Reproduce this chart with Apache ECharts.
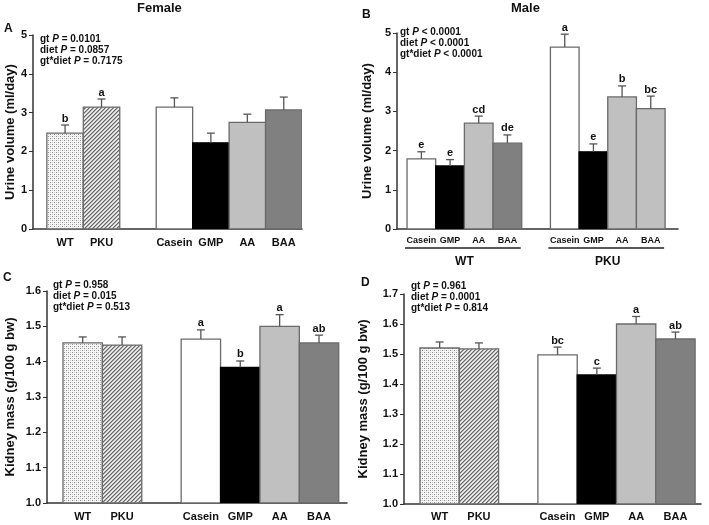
<!DOCTYPE html>
<html><head><meta charset="utf-8">
<script src="https://cdn.jsdelivr.net/npm/echarts@6/dist/echarts.min.js"></script>
<style>html,body{margin:0;padding:0;background:#fff}#c{width:709px;height:525px}</style>
</head><body><div id="c"></div><script>
const FONT = '"Liberation Sans", Arial, sans-serif';

// ---------- data ----------
const groupCats = ['WT', 'PKU'];
const dietCats = ['Casein', 'GMP', 'AA', 'BAA'];
const effectTerms = ['gt', 'diet', 'gt*diet'];

// Panel A – Female urine volume (WT, PKU, then diets)
const urineFemaleMean = [2.47, 3.14, 3.14, 2.22, 2.75, 3.07];
const urineFemaleSE = [0.21, 0.21, 0.24, 0.25, 0.21, 0.33];
const urineFemaleLetters = ['b', 'a', '', '', '', ''];
const urineFemaleP = ['= 0.0101', '= 0.0857', '= 0.7175'];

// Panel B – Male urine volume (WT diets, then PKU diets)
const urineMaleMean = [1.79, 1.61, 2.70, 2.19, 4.64, 1.97, 3.37, 3.07];
const urineMaleSE = [0.18, 0.16, 0.18, 0.21, 0.33, 0.20, 0.28, 0.32];
const urineMaleLetters = ['e', 'e', 'cd', 'de', 'a', 'e', 'b', 'bc'];
const urineMaleP = ['< 0.0001', '< 0.0001', '< 0.0001'];

// Panel C – Female kidney mass
const kidneyFemaleMean = [1.453, 1.447, 1.464, 1.384, 1.500, 1.453];
const kidneyFemaleSE = [0.017, 0.023, 0.026, 0.018, 0.033, 0.022];
const kidneyFemaleLetters = ['', '', 'a', 'b', 'a', 'ab'];
const kidneyFemaleP = ['= 0.958', '= 0.015', '= 0.513'];

// Panel D – Male kidney mass
const kidneyMaleMean = [1.520, 1.517, 1.497, 1.430, 1.600, 1.550];
const kidneyMaleSE = [0.020, 0.020, 0.026, 0.023, 0.025, 0.023];
const kidneyMaleLetters = ['', '', 'bc', 'c', 'a', 'ab'];
const kidneyMaleP = ['= 0.961', '= 0.0001', '= 0.814'];

// tick labels
const urineTicks = [0, 1, 2, 3, 4, 5];
const kidneyTicksFemale = [1.0, 1.1, 1.2, 1.3, 1.4, 1.5, 1.6];
const kidneyTicksMale = [1.0, 1.1, 1.2, 1.3, 1.4, 1.5, 1.6, 1.7];

// ---------- fills ----------
function makePattern(draw) {
  const cv = document.createElement('canvas');
  cv.width = 4; cv.height = 4;
  const ctx = cv.getContext('2d');
  draw(ctx);
  return { image: cv, repeat: 'repeat' };
}
const dotFill = makePattern(ctx => {
  ctx.fillStyle = '#f6f6f6'; ctx.fillRect(0, 0, 4, 4);
  ctx.fillStyle = '#8a8a8a'; ctx.fillRect(0, 0, 1, 1); ctx.fillRect(2, 2, 1, 1);
  ctx.fillStyle = '#cfcfcf'; ctx.fillRect(2, 0, 1, 1); ctx.fillRect(0, 2, 1, 1);
});
const hatchFill = makePattern(ctx => {
  for (let x = 0; x < 4; x++) for (let y = 0; y < 4; y++) {
    const k = (x + y) % 4;
    ctx.fillStyle = k === 0 ? '#6a6a6a' : (k === 1 ? '#a8a8a8' : (k === 2 ? '#f2f2f2' : '#d6d6d6'));
    ctx.fillRect(x, y, 1, 1);
  }
});
const fillsSimple = [dotFill, hatchFill, '#ffffff', '#000000', '#c0c0c0', '#808080'];
const fillsMale = ['#ffffff', '#000000', '#c0c0c0', '#808080', '#ffffff', '#000000', '#c0c0c0', '#c0c0c0'];

// ---------- builders ----------
const grids = [], xAxes = [], yAxes = [], series = [], graphics = [];

function panel(cfg) {
  const idx = grids.length;
  const pos = cfg.labels.map((_, i) => (i < cfg.split ? i : i + 1));
  const ticks = cfg.ticks;
  const yMin = ticks[0], yMax = ticks[ticks.length - 1];
  const step = Math.round((ticks[1] - ticks[0]) * 1000) / 1000;
  grids.push(Object.assign({ containLabel: false, outerBoundsMode: 'none' }, cfg.grid));
  xAxes.push({
    gridIndex: idx, type: 'value', min: cfg.xMin, max: cfg.xMax,
    splitLine: { show: false },
    axisLine: { show: true, onZero: false, lineStyle: { color: '#333', width: 1.5 } },
    axisTick: { show: false },
    axisLabel: {
      customValues: pos, margin: cfg.xMargin, hideOverlap: false,
      showMinLabel: true, showMaxLabel: true,
      formatter: v => cfg.labels[pos.indexOf(Math.round(v))] || '',
      color: '#111', fontFamily: FONT, fontWeight: 'bold', fontSize: cfg.xFont || 11
    }
  });
  yAxes.push({
    gridIndex: idx, type: 'value', min: yMin, max: yMax, interval: step,
    name: cfg.yName, nameLocation: 'middle', nameRotate: 90, nameGap: cfg.nameGap,
    nameTextStyle: { color: '#111', fontFamily: FONT, fontWeight: 'bold', fontSize: 13 },
    splitLine: { show: false },
    axisLine: { show: true, onZero: false, lineStyle: { color: '#333', width: 1.5 } },
    axisTick: { show: true, inside: false, length: 4, lineStyle: { color: '#333', width: 1 } },
    axisLabel: {
      margin: 6, color: '#111', fontFamily: FONT, fontWeight: 'bold', fontSize: 11,
      formatter: v => cfg.decimals ? v.toFixed(cfg.decimals) : String(Math.round(v))
    }
  });
  const data = cfg.mean.map((m, i) => [pos[i], m, cfg.se[i]]);
  // bars
  series.push({
    type: 'custom', xAxisIndex: idx, yAxisIndex: idx, clip: true, z: 2,
    data: data,
    renderItem: (params, api) => {
      const x = api.value(0), m = api.value(1);
      const p0 = api.coord([x - 0.5, m]);
      const p1 = api.coord([x + 0.5, yMin]);
      const f = cfg.fills[params.dataIndex];
      return {
        type: 'rect',
        shape: { x: p0[0], y: p0[1], width: p1[0] - p0[0], height: p1[1] - p0[1] },
        style: { fill: f, stroke: f === '#000000' ? '#000' : '#6a6a6a', lineWidth: 1.3 }
      };
    }
  });
  // error bars + letters
  series.push({
    type: 'custom', xAxisIndex: idx, yAxisIndex: idx, clip: false, z: 3,
    data: data,
    renderItem: (params, api) => {
      const x = api.value(0), m = api.value(1), e = api.value(2);
      const p0 = api.coord([x, m]);
      const p1 = api.coord([x, m + e]);
      const st = { stroke: '#555', lineWidth: 1.3 };
      return {
        type: 'group', children: [
          { type: 'line', shape: { x1: p0[0], y1: p0[1], x2: p1[0], y2: p1[1] }, style: st },
          { type: 'line', shape: { x1: p1[0] - 4, y1: p1[1], x2: p1[0] + 4, y2: p1[1] }, style: st },
          { type: 'text', style: {
              text: cfg.letters[params.dataIndex], x: p1[0], y: p1[1] - 1,
              align: 'center', verticalAlign: 'bottom',
              font: 'bold 11px ' + FONT, fill: '#111' } }
        ]
      };
    }
  });
  // group underline labels (panel B)
  if (cfg.groups) {
    const spans = cfg.groups.map((g, gi) => {
      const ps = pos.slice(gi * cfg.split, (gi + 1) * cfg.split);
      return [ps[0] - 0.5, ps[ps.length - 1] + 0.5];
    });
    series.push({
      type: 'custom', xAxisIndex: idx, yAxisIndex: idx, clip: false, z: 3,
      data: spans,
      renderItem: (params, api) => {
        const a = api.coord([api.value(0), yMin]);
        const b = api.coord([api.value(1), yMin]);
        return {
          type: 'group', children: [
            { type: 'line', shape: { x1: a[0] - 2, y1: a[1] + 19, x2: b[0] - 1, y2: a[1] + 19 },
              style: { stroke: '#222', lineWidth: 1.3 } },
            { type: 'text', style: {
                text: cfg.groups[params.dataIndex], x: (a[0] + b[0]) / 2, y: a[1] + 33,
                align: 'center', verticalAlign: 'middle',
                font: 'bold 12px ' + FONT, fill: '#111' } }
          ]
        };
      }
    });
  }
  // panel letter
  graphics.push({ type: 'text', left: cfg.tag[1], top: cfg.tag[2],
    style: { text: cfg.tag[0], font: 'bold 12px ' + FONT, fill: '#111' } });
  // P-values
  const lines = effectTerms.map((t, i) => t + ' {i|P} ' + cfg.p[i]).join('\n');
  graphics.push({ type: 'text', left: cfg.pPos[0], top: cfg.pPos[1],
    style: { text: lines, font: 'bold 10px ' + FONT, fill: '#111', lineHeight: 11,
      rich: { i: { fontStyle: 'italic', fontWeight: 'bold', fontSize: 10, fontFamily: FONT, lineHeight: 11, fill: '#111' } } } });
}

panel({
  grid: { left: 33, top: 35, width: 269, height: 194 },
  xMin: -0.88, xMax: 6.5, split: 2, labels: groupCats.concat(dietCats), xMargin: 8,
  ticks: urineTicks, yName: 'Urine volume (ml/day)', nameGap: 14,
  mean: urineFemaleMean, se: urineFemaleSE, letters: urineFemaleLetters, fills: fillsSimple,
  p: urineFemaleP, pPos: [40, 34], tag: ['A', 4, 23]
});
panel({
  grid: { left: 397, top: 33, width: 281, height: 196 },
  xMin: -0.85, xMax: 8.95, split: 4, labels: dietCats.concat(dietCats), xMargin: 7, xFont: 9,
  ticks: urineTicks, yName: 'Urine volume (ml/day)', nameGap: 23,
  mean: urineMaleMean, se: urineMaleSE, letters: urineMaleLetters, fills: fillsMale,
  p: urineMaleP, pPos: [400, 27], tag: ['B', 362, 9], groups: groupCats
});
panel({
  grid: { left: 47, top: 291, width: 300, height: 212 },
  xMin: -0.906, xMax: 6.71, split: 2, labels: groupCats.concat(dietCats), xMargin: 8,
  ticks: kidneyTicksFemale, yName: 'Kidney mass (g/100 g bw)', nameGap: 30, decimals: 1,
  mean: kidneyFemaleMean, se: kidneyFemaleSE, letters: kidneyFemaleLetters, fills: fillsSimple,
  p: kidneyFemaleP, pPos: [53, 280], tag: ['C', 3, 272]
});
panel({
  grid: { left: 404, top: 294, width: 297, height: 210 },
  xMin: -0.907, xMax: 6.65, split: 2, labels: groupCats.concat(dietCats), xMargin: 7,
  ticks: kidneyTicksMale, yName: 'Kidney mass (g/100 g bw)', nameGap: 34, decimals: 1,
  mean: kidneyMaleMean, se: kidneyMaleSE, letters: kidneyMaleLetters, fills: fillsSimple,
  p: kidneyMaleP, pPos: [411, 281], tag: ['D', 361, 277]
});

graphics.push({ type: 'text', left: 137, top: 2,
  style: { text: 'Female', font: 'bold 13px ' + FONT, fill: '#111' } });
graphics.push({ type: 'text', left: 511, top: 2,
  style: { text: 'Male', font: 'bold 13px ' + FONT, fill: '#111' } });

const chart = echarts.init(document.getElementById('c'), null, { renderer: 'canvas' });
chart.setOption({
  animation: false,
  backgroundColor: '#fff',
  grid: grids, xAxis: xAxes, yAxis: yAxes, series: series, graphic: graphics
});
</script></body></html>
